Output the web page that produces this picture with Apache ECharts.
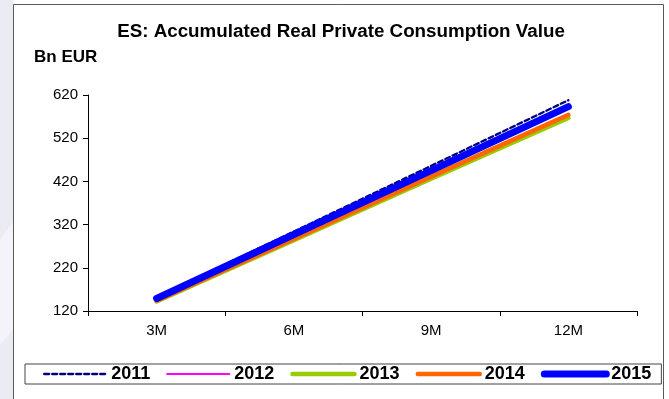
<!DOCTYPE html>
<html>
<head>
<meta charset="utf-8">
<script src="https://cdn.jsdelivr.net/npm/echarts@6/dist/echarts.min.js"></script>
<style>
  html, body { margin: 0; padding: 0; background: #ffffff; }
  #chart { width: 669px; height: 399px; }
</style>
</head>
<body>
<div id="chart"></div>
<script>
// Accumulated real private consumption, Spain (Bn EUR), by quarter-end horizon
const horizons = ['3M', '6M', '9M', '12M'];
const yTicks = [120, 220, 320, 420, 520, 620];

const years = ['2011', '2012', '2013', '2014', '2015'];
const v2011 = [152, 304, 456, 608];
const v2012 = [145, 289, 432, 572];
const v2013 = [142, 284, 426, 567];
const v2014 = [144, 287, 431, 574];
const v2015 = [149, 297, 445, 593];

const chart = echarts.init(document.getElementById('chart'), null, { renderer: 'canvas' });

const FONT = '"Liberation Sans", Arial, sans-serif';

function lineSeries(name, data, color, width, type) {
  return {
    name: name,
    type: 'line',
    data: data,
    symbol: 'none',
    showSymbol: false,
    silent: true,
    animation: false,
    lineStyle: { color: color, width: width, type: type || 'solid', cap: 'round', join: 'round' },
    itemStyle: { color: color }
  };
}

chart.setOption({
  animation: false,
  backgroundColor: '#ffffff',
  graphic: [
    { type: 'rect', silent: true, z: -10, shape: { x: 0, y: 0, width: 13, height: 399 }, style: { fill: '#ebebf4' } },
    { type: 'polygon', silent: true, z: -9, shape: { points: [[0, 240], [13, 222], [13, 330], [0, 345]] }, style: { fill: '#f3f3f9' } },
    { type: 'rect', silent: true, z: -8, shape: { x: 13.5, y: 4.5, width: 650, height: 400 }, style: { fill: '#ffffff', stroke: '#5a5a5a', lineWidth: 1 } },
    { type: 'text', silent: true, style: { text: 'ES: Accumulated Real Private Consumption Value', x: 341, y: 32, align: 'center', verticalAlign: 'middle', font: 'bold 18.8px ' + FONT, fill: '#000' } },
    { type: 'text', silent: true, style: { text: 'Bn EUR', x: 34, y: 57, align: 'left', verticalAlign: 'middle', font: 'bold 17px ' + FONT, fill: '#000' } }
  ],
  grid: { left: 88, right: 32, top: 95, bottom: 88, containLabel: false },
  xAxis: {
    type: 'category',
    data: horizons,
    boundaryGap: true,
    axisLine: { lineStyle: { color: '#000', width: 1 } },
    axisTick: { show: true, length: 5, lineStyle: { color: '#000' } },
    axisLabel: { color: '#000', fontSize: 15, fontFamily: FONT, margin: 12 },
    splitLine: { show: false }
  },
  yAxis: {
    type: 'value',
    min: yTicks[0],
    max: yTicks[yTicks.length - 1],
    interval: yTicks[1] - yTicks[0],
    axisLine: { show: true, lineStyle: { color: '#000', width: 1 } },
    axisTick: { show: true, length: 5, lineStyle: { color: '#000' } },
    axisLabel: { color: '#000', fontSize: 15, fontFamily: FONT, margin: 10 },
    splitLine: { show: false }
  },
  legend: {
    data: years,
    left: 25,
    top: 364,
    orient: 'horizontal',
    borderColor: '#444',
    borderWidth: 1,
    padding: [1, 10, 1, 18],
    itemWidth: 62,
    itemHeight: 14,
    itemGap: 16,
    itemStyle: { color: 'rgba(0,0,0,0)', opacity: 0, borderWidth: 0 },
    lineStyle: { width: 'inherit', type: 'inherit', cap: 'round' },
    textStyle: { color: '#000', fontSize: 18, fontWeight: 'bold', fontFamily: FONT },
    selectedMode: false
  },
  series: [
    lineSeries(years[0], v2011, '#000080', 2.3, [5, 3]),
    lineSeries(years[1], v2012, '#ff00ff', 2),
    lineSeries(years[2], v2013, '#99cc00', 4.5),
    lineSeries(years[3], v2014, '#ff6600', 4.5),
    lineSeries(years[4], v2015, '#0000ff', 7)
  ]
});
</script>
</body>
</html>
